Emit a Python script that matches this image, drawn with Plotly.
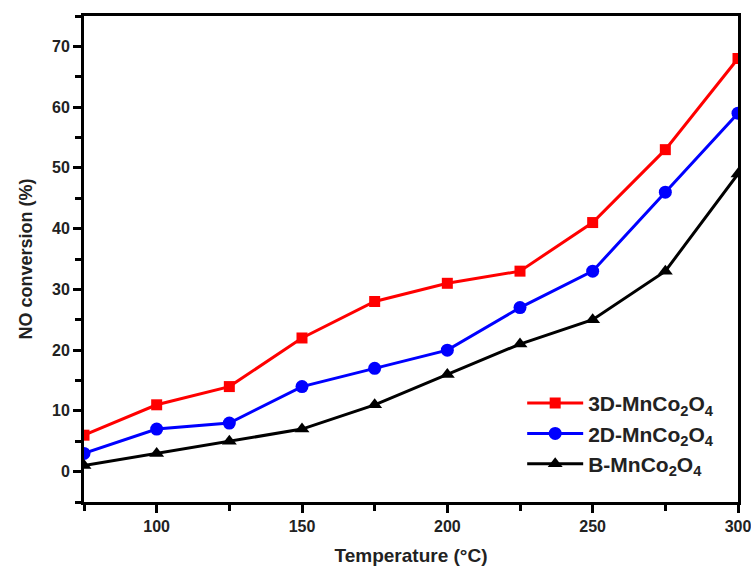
import plotly.graph_objects as go

temps = [75, 100, 125, 150, 175, 200, 225, 250, 275, 300]
conv_3d = [6, 11, 14, 22, 28, 31, 33, 41, 53, 68]
conv_2d = [3, 7, 8, 14, 17, 20, 27, 33, 46, 59]
conv_b = [1, 3, 5, 7, 11, 16, 21, 25, 33, 49]

x_ticks = [100, 150, 200, 250, 300]
x_minor = [75, 100, 125, 150, 175, 200, 225, 250, 275, 300]
y_ticks = [0, 10, 20, 30, 40, 50, 60, 70]
y_minor = [-5, 0, 5, 10, 15, 20, 25, 30, 35, 40, 45, 50, 55, 60, 65, 70, 75]

names = ["3D-MnCo<sub>2</sub>O<sub>4</sub>", "2D-MnCo<sub>2</sub>O<sub>4</sub>", "B-MnCo<sub>2</sub>O<sub>4</sub>"]
colors = ["#ff0000", "#0000ff", "#000000"]
symbols = ["square", "circle", "triangle-up"]
sizes = [11, 13, 13]
series = [conv_3d, conv_2d, conv_b]

font_family = "Liberation Sans, Arial, sans-serif"

fig = go.Figure()
for n, c, s, sz, ys in zip(names, colors, symbols, sizes, series):
    fig.add_trace(go.Scatter(
        x=temps, y=ys, name="<b>" + n + "</b>", mode="lines+markers",
        line=dict(color=c, width=3),
        marker=dict(color=c, symbol=s, size=sz),
    ))

fig.update_xaxes(
    range=[75, 300], tickvals=x_ticks, ticktext=["<b>%d</b>" % v for v in x_ticks],
    tickfont=dict(size=16, weight="bold", color="#222"),
    ticklabeloverflow="allow",
    showline=True, linewidth=3, linecolor="black", mirror=True,
    ticks="outside", ticklen=8, tickwidth=3, tickcolor="black",
    minor=dict(ticks="outside", ticklen=6, tickwidth=3, tickcolor="black", tickvals=x_minor),
    showgrid=False, zeroline=False, automargin=False,
    title=dict(text="<b>Temperature (°C)</b>", font=dict(size=19, color="#222")),
)
fig.update_yaxes(
    range=[-5, 75], tickvals=y_ticks, ticktext=["<b>%d</b>" % v for v in y_ticks],
    tickfont=dict(size=16, weight="bold", color="#222"),
    showline=True, linewidth=3, linecolor="black", mirror=True,
    ticks="outside", ticklen=8, tickwidth=3, tickcolor="black",
    minor=dict(ticks="outside", ticklen=6, tickwidth=3, tickcolor="black", tickvals=y_minor),
    showgrid=False, zeroline=False, automargin=False,
    title=dict(text="<b>NO conversion (%)</b>", font=dict(size=18, color="#222")),
)

fig.update_layout(
    template="simple_white",
    width=751, height=572,
    margin=dict(l=84, r=13, t=16, b=70),
    font=dict(family=font_family, color="#222", size=16),
    showlegend=True,
    legend=dict(
        x=0.67, y=0.245, xanchor="left", yanchor="top",
        bgcolor="rgba(0,0,0,0)",
        font=dict(size=21, color="#222"),
        itemwidth=56, tracegroupgap=0,
    ),
)

fig.write_html("out.html")
